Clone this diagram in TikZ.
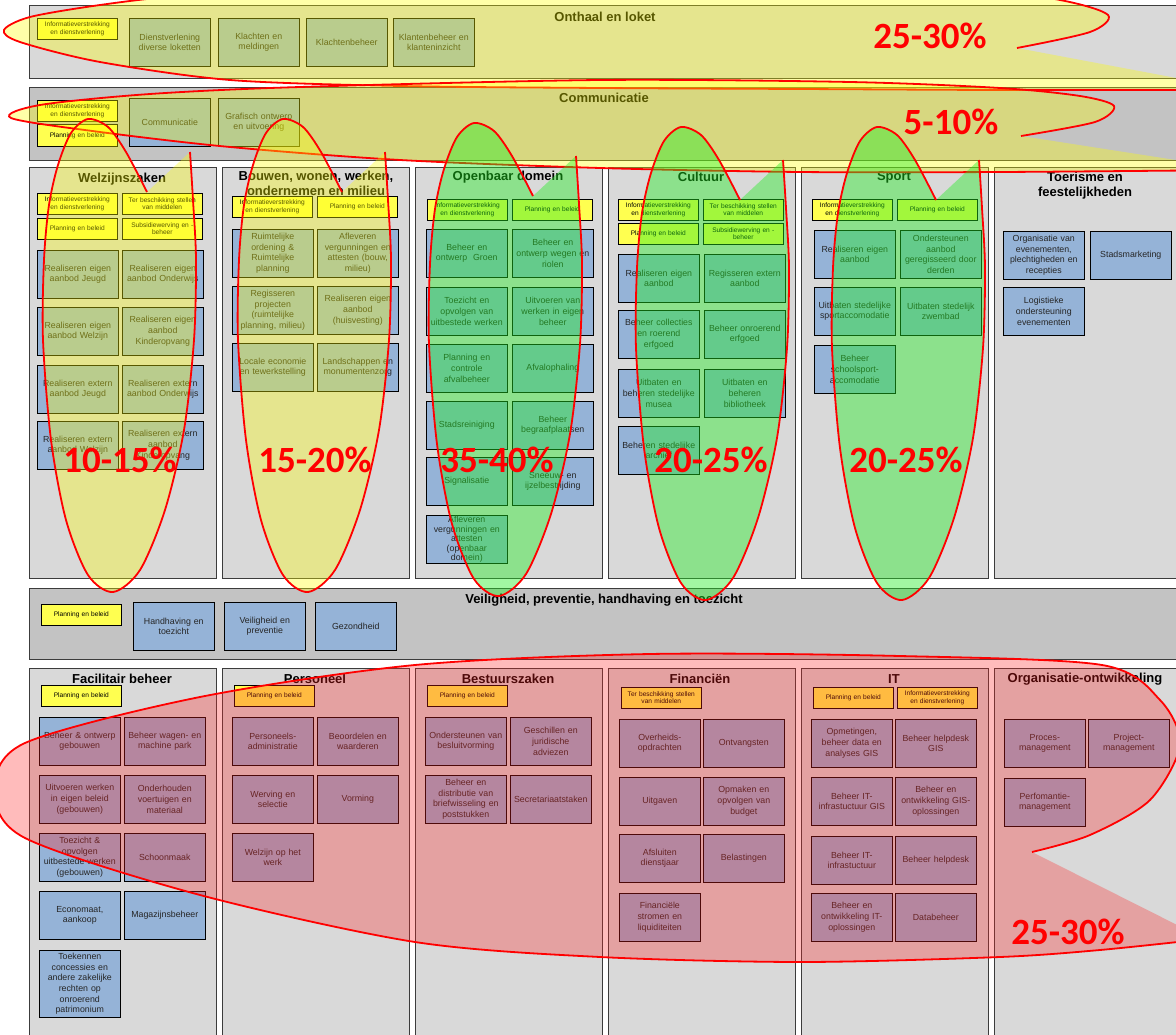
\documentclass[tikz,border=0pt]{standalone}
\usepackage{fontspec}
\setmainfont{Liberation Sans}
\newfontfamily\procfont{Carlito}

\definecolor{kolomgrijs}{HTML}{D9D9D9}
\definecolor{balkgrijs}{HTML}{C3C3C3}
\definecolor{taakblauw}{HTML}{95B3D7}
\definecolor{rolgeel}{HTML}{FFFF50}
\definecolor{lijngrijs}{HTML}{3C3C3C}
\definecolor{geelvlak}{HTML}{FFFF00}
\definecolor{groenvlak}{HTML}{22EE22}
\definecolor{roodvlak}{HTML}{FF2020}

% omtrek van de wolken (pixels, y naar beneden)
\newcommand{\onthaalrand}{plot[smooth] coordinates {(1240,90) (1000,90) (800,89) (600,88) (400,86) (230,80) (100,62) (20,42) (4,30) (30,17) (100,5) (187,-5) (400,-22) (700,-25) (950,-15) (1060,0) (1108,15) (1090,32) (1017,48)}}
\newcommand{\communicatierand}{plot[smooth] coordinates {(1240,170) (1000,172) (800,172) (600,168) (400,160) (230,147) (100,132) (11,118) (40,105) (150,94) (300,87) (600,80) (850,82) (1000,88) (1080,96) (1114,106) (1095,122) (1021,136)}}
\newcommand{\kolomrand}{plot[smooth] coordinates {(190,152) (193,200) (196,260) (194,340) (184,430) (165,510) (140,570) (113,592) (88,575) (66,520) (51,440) (43,340) (44,260) (49,205) (58,165) (71,133) (88,119) (108,127) (126,152) (147,192)}}
\newcommand{\onderrand}{plot[smooth] coordinates {(1205,939) (1100,950) (1000,957) (802,962) (600,957) (415,942) (200,895) (25,838) (-5,790) (25,743) (200,697) (415,665) (650,654) (900,656) (1102,665) (1160,700) (1180,745) (1150,800) (1090,835) (1032,852)}}

\begin{document}
\begin{tikzpicture}[x=1pt,y=-1pt,
  kolom/.style={draw=lijngrijs,fill=kolomgrijs,line width=0.8pt,anchor=north west,inner sep=0pt},
  taak/.style={draw=black,fill=taakblauw,line width=0.6pt,anchor=north west,minimum width=81pt,minimum height=48pt,text width=80pt,align=center,inner sep=0pt,font=\fontsize{8.8}{10.7}\selectfont,text=black!85},
  rol/.style={draw=black,fill=rolgeel,line width=0.6pt,anchor=north west,minimum width=80pt,minimum height=21pt,text width=79pt,align=center,inner sep=0pt,font=\fontsize{6.6}{7.6}\selectfont},
  kop/.style={font=\fontsize{13}{15}\selectfont\bfseries,align=center,inner sep=0pt},
  procent/.style={font=\procfont\fontsize{37}{40}\selectfont\bfseries,text=red,inner sep=0pt},
  rand/.style={draw=red,line width=1.8pt},
  geelwolk/.style={fill=geelvlak,fill opacity=0.34},
  groenwolk/.style={fill=groenvlak,fill opacity=0.42},
  roodwolk/.style={fill=roodvlak,fill opacity=0.3}]

\useasboundingbox (0,0) rectangle (1176,1035);
\fill[white] (0,0) rectangle (1176,1035);

% Onthaal en loket
\node[kolom,minimum width=1160,minimum height=73] (onthaal) at (29,5) {};
\node[kop] (onthaalkop) at (605,17) {Onthaal en loket};
\node[rol] (o0) at (37,18) {Informatieverstrekking\\en dienstverlening};
\node[taak] (o1) at (129,18) {Dienstverlening\\diverse loketten};
\node[taak] (o2) at (218,18) {Klachten en\\meldingen};
\node[taak] (o3) at (306,18) {Klachtenbeheer};
\node[taak] (o4) at (393,18) {Klantenbeheer en\\klanteninzicht};

% Communicatie
\node[kolom,fill=balkgrijs,minimum width=1160,minimum height=73] (comm) at (29,87) {};
\node[kop] (commkop) at (604,98) {Communicatie};
\node[rol] (c0) at (37,100) {Informatieverstrekking\\en dienstverlening};
\node[rol,minimum height=22] (c00) at (37,124) {Planning en beleid};
\node[taak] (c1) at (129,98) {Communicatie};
\node[taak] (c2) at (218,98) {Grafisch ontwerp\\en uitvoering};

% Welzijnszaken
\node[kolom,minimum width=187,minimum height=411] (welzijn) at (29,167) {};
\node[kop] (welzijnkop) at (122,179) {Welzijnszaken};
\node[rol] (w01) at (37,193) {Informatieverstrekking\\en dienstverlening};
\node[rol] (w02) at (122,193) {Ter beschikking stellen\\van middelen};
\node[rol] (w03) at (37,218) {Planning en beleid};
\node[rol] (w04) at (122,218) {Subsidiewerving en -\\beheer};
\node[taak] (w1) at (37,250) {Realiseren eigen\\aanbod Jeugd};
\node[taak] (w2) at (122,250) {Realiseren eigen\\aanbod Onderwijs};
\node[taak] (w3) at (37,307) {Realiseren eigen\\aanbod Welzijn};
\node[taak] (w4) at (122,307) {Realiseren eigen\\aanbod\\Kinderopvang};
\node[taak] (w5) at (37,365) {Realiseren extern\\aanbod Jeugd};
\node[taak] (w6) at (122,365) {Realiseren extern\\aanbod Onderwijs};
\node[taak] (w7) at (37,421) {Realiseren extern\\aanbod Welzijn};
\node[taak] (w8) at (122,421) {Realiseren extern\\aanbod\\Kinderopvang};

% Bouwen, wonen, werken, ondernemen en milieu
\node[kolom,minimum width=187,minimum height=411] (bouwen) at (222,167) {};
\node[kop] (bouwenkop) at (316,183) {Bouwen, wonen, werken,\\ondernemen en milieu};
\node[rol] (b01) at (232,196) {Informatieverstrekking\\en dienstverlening};
\node[rol] (b02) at (317,196) {Planning en beleid};
\node[taak] (b1) at (232,229) {Ruimtelijke\\ordening \&\\Ruimtelijke\\planning};
\node[taak] (b2) at (317,229) {Afleveren\\vergunningen en\\attesten (bouw,\\milieu)};
\node[taak] (b3) at (232,286) {Regisseren\\projecten\\(ruimtelijke\\planning, milieu)};
\node[taak] (b4) at (317,286) {Realiseren eigen\\aanbod\\(huisvesting)};
\node[taak] (b5) at (232,343) {Locale economie\\en tewerkstelling};
\node[taak] (b6) at (317,343) {Landschappen en\\monumentenzorg};

% Openbaar domein
\node[kolom,minimum width=187,minimum height=411] (openbaar) at (415,167) {};
\node[kop] (openbaarkop) at (508,177) {Openbaar domein};
\node[rol] (d01) at (427,199) {Informatieverstrekking\\en dienstverlening};
\node[rol] (d02) at (512,199) {Planning en beleid};
\node[taak] (d1) at (426,229) {Beheer en\\ontwerp~~Groen};
\node[taak] (d2) at (512,229) {Beheer en\\ontwerp wegen en\\riolen};
\node[taak] (d3) at (426,287) {Toezicht en\\opvolgen van\\uitbestede werken};
\node[taak] (d4) at (512,287) {Uitvoeren van\\werken in eigen\\beheer};
\node[taak] (d5) at (426,344) {Planning en\\controle\\afvalbeheer};
\node[taak] (d6) at (512,344) {Afvalophaling};
\node[taak] (d7) at (426,401) {Stadsreiniging};
\node[taak] (d8) at (512,401) {Beheer\\begraafplaatsen};
\node[taak] (d9) at (426,457) {Signalisatie};
\node[taak] (d10) at (512,457) {Sneeuw- en\\ijzelbestrijding};
\node[taak,font=\fontsize{8.8}{9.5}\selectfont] (d11) at (426,515) {Afleveren\\vergunningen en\\attesten\\(openbaar\\domein)};

% Cultuur
\node[kolom,minimum width=187,minimum height=411] (cultuur) at (608,167) {};
\node[kop] (cultuurkop) at (701,177) {Cultuur};
\node[rol] (k01) at (618,199) {Informatieverstrekking\\en dienstverlening};
\node[rol] (k02) at (703,199) {Ter beschikking stellen\\van middelen};
\node[rol] (k03) at (618,223) {Planning en beleid};
\node[rol] (k04) at (703,223) {Subsidiewerving en -\\beheer};
\node[taak] (k1) at (618,254) {Realiseren eigen\\aanbod};
\node[taak] (k2) at (704,254) {Regisseren extern\\aanbod};
\node[taak] (k3) at (618,310) {Beheer collecties\\en roerend\\erfgoed};
\node[taak] (k4) at (704,310) {Beheer onroerend\\erfgoed};
\node[taak] (k5) at (618,369) {Uitbaten en\\beheren stedelijke\\musea};
\node[taak] (k6) at (704,369) {Uitbaten en\\beheren\\bibliotheek};
\node[taak] (k7) at (618,426) {Beheren stedelijke\\archief};

% Sport
\node[kolom,minimum width=187,minimum height=411] (sport) at (801,167) {};
\node[kop] (sportkop) at (894,177) {Sport};
\node[rol] (s01) at (812,199) {Informatieverstrekking\\en dienstverlening};
\node[rol] (s02) at (897,199) {Planning en beleid};
\node[taak] (s1) at (814,230) {Realiseren eigen\\aanbod};
\node[taak] (s2) at (900,230) {Ondersteunen\\aanbod\\geregisseerd door\\derden};
\node[taak] (s3) at (814,287) {Uitbaten stedelijke\\sportaccomodatie};
\node[taak] (s4) at (900,287) {Uitbaten stedelijk\\zwembad};
\node[taak] (s5) at (814,345) {Beheer\\schoolsport-\\accomodatie};

% Toerisme en feestelijkheden
\node[kolom,minimum width=187,minimum height=411] (toerisme) at (994,167) {};
\node[kop] (toerismekop) at (1085,186) {Toerisme en\\feestelijkheden};
\node[taak] (f1) at (1003,231) {Organisatie van\\evenementen,\\plechtigheden en\\recepties};
\node[taak] (f2) at (1090,231) {Stadsmarketing};
\node[taak] (f3) at (1003,287) {Logistieke\\ondersteuning\\evenementen};

% Veiligheid, preventie, handhaving en toezicht
\node[kolom,fill=balkgrijs,minimum width=1160,minimum height=71] (veilig) at (29,588) {};
\node[kop] (veiligkop) at (604,600) {Veiligheid, preventie, handhaving en toezicht};
\node[rol] (v0) at (41,604) {Planning en beleid};
\node[taak] (v1) at (133,602) {Handhaving en\\toezicht};
\node[taak] (v2) at (224,602) {Veiligheid en\\preventie};
\node[taak] (v3) at (315,602) {Gezondheid};

% Facilitair beheer
\node[kolom,minimum width=187,minimum height=390] (facilitair) at (29,668) {};
\node[kop] (facilitairkop) at (122,679) {Facilitair beheer};
\node[rol] (a0) at (41,685) {Planning en beleid};
\node[taak] (a1) at (39,717) {Beheer \& ontwerp\\gebouwen};
\node[taak] (a2) at (124,717) {Beheer wagen- en\\machine park};
\node[taak] (a3) at (39,775) {Uitvoeren werken\\in eigen beleid\\(gebouwen)};
\node[taak] (a4) at (124,775) {Onderhouden\\voertuigen en\\materiaal};
\node[taak] (a5) at (39,833) {Toezicht \&\\opvolgen\\uitbestede werken\\(gebouwen)};
\node[taak] (a6) at (124,833) {Schoonmaak};
\node[taak] (a7) at (39,891) {Economaat,\\aankoop};
\node[taak] (a8) at (124,891) {Magazijnsbeheer};
\node[taak,minimum height=67] (a9) at (39,950) {Toekennen\\concessies en\\andere zakelijke\\rechten op\\onroerend\\patrimonium};

% Personeel
\node[kolom,minimum width=187,minimum height=390] (personeel) at (222,668) {};
\node[kop] (personeelkop) at (315,679) {Personeel};
\node[rol] (e0) at (234,685) {Planning en beleid};
\node[taak] (e1) at (232,717) {Personeels-\\administratie};
\node[taak] (e2) at (317,717) {Beoordelen en\\waarderen};
\node[taak] (e3) at (232,775) {Werving en\\selectie};
\node[taak] (e4) at (317,775) {Vorming};
\node[taak] (e5) at (232,833) {Welzijn op het\\werk};

% Bestuurszaken
\node[kolom,minimum width=187,minimum height=390] (bestuur) at (415,668) {};
\node[kop] (bestuurkop) at (508,679) {Bestuurszaken};
\node[rol] (z0) at (427,685) {Planning en beleid};
\node[taak] (z1) at (425,717) {Ondersteunen van\\besluitvorming};
\node[taak] (z2) at (510,717) {Geschillen en\\juridische\\adviezen};
\node[taak] (z3) at (425,775) {Beheer en\\distributie van\\briefwisseling en\\poststukken};
\node[taak] (z4) at (510,775) {Secretariaatstaken};

% Financien
\node[kolom,minimum width=187,minimum height=390] (financien) at (608,668) {};
\node[kop] (financienkop) at (700,679) {Financiën};
\node[rol] (n0) at (621,687) {Ter beschikking stellen\\van middelen};
\node[taak] (n1) at (619,719) {Overheids-\\opdrachten};
\node[taak] (n2) at (703,719) {Ontvangsten};
\node[taak] (n3) at (619,777) {Uitgaven};
\node[taak] (n4) at (703,777) {Opmaken en\\opvolgen van\\budget};
\node[taak] (n5) at (619,834) {Afsluiten\\dienstjaar};
\node[taak] (n6) at (703,834) {Belastingen};
\node[taak] (n7) at (619,893) {Financiële\\stromen en\\liquiditeiten};

% IT
\node[kolom,minimum width=187,minimum height=390] (it) at (801,668) {};
\node[kop] (itkop) at (894,679) {IT};
\node[rol] (i01) at (813,687) {Planning en beleid};
\node[rol] (i02) at (897,687) {Informatieverstrekking\\en dienstverlening};
\node[taak] (i1) at (811,719) {Opmetingen,\\beheer data en\\analyses GIS};
\node[taak] (i2) at (895,719) {Beheer helpdesk\\GIS};
\node[taak] (i3) at (811,777) {Beheer IT-\\infrastuctuur GIS};
\node[taak] (i4) at (895,777) {Beheer en\\ontwikkeling GIS-\\oplossingen};
\node[taak] (i5) at (811,836) {Beheer IT-\\infrastuctuur};
\node[taak] (i6) at (895,836) {Beheer helpdesk};
\node[taak] (i7) at (811,893) {Beheer en\\ontwikkeling IT-\\oplossingen};
\node[taak] (i8) at (895,893) {Databeheer};

% Organisatie-ontwikkeling
\node[kolom,minimum width=187,minimum height=390] (orgo) at (994,668) {};
\node[kop] (orgokop) at (1085,679) {Organisatie-ontwikkeling};
\node[taak] (g1) at (1004,719) {Proces-\\management};
\node[taak] (g2) at (1088,719) {Project-\\management};
\node[taak] (g3) at (1004,778) {Perfomantie-\\management};

% wolken
\fill[geelwolk] \onthaalrand -- cycle;
\draw[rand] \onthaalrand;
\fill[geelwolk] \communicatierand -- cycle;
\draw[rand] \communicatierand;
\foreach \dx in {0,195} {
  \begin{scope}[shift={(\dx,0)}]
    \fill[geelwolk] \kolomrand -- cycle;
    \draw[rand] \kolomrand;
  \end{scope}
}
\foreach \dx/\dy in {386/4,593/8,789/8} {
  \begin{scope}[shift={(\dx,\dy)}]
    \fill[groenwolk] \kolomrand -- cycle;
    \draw[rand] \kolomrand;
  \end{scope}
}
\fill[roodwolk] \onderrand -- cycle;
\draw[rand] \onderrand;

% percentages
\node[procent] (p1) at (930,36) {25-30\%};
\node[procent] (p2) at (951,122) {5-10\%};
\node[procent] (p3) at (120,460) {10-15\%};
\node[procent] (p4) at (315,460) {15-20\%};
\node[procent] (p5) at (497,460) {35-40\%};
\node[procent] (p6) at (711,460) {20-25\%};
\node[procent] (p7) at (906,460) {20-25\%};
\node[procent] (p8) at (1068,932) {25-30\%};
\end{tikzpicture}
\end{document}
